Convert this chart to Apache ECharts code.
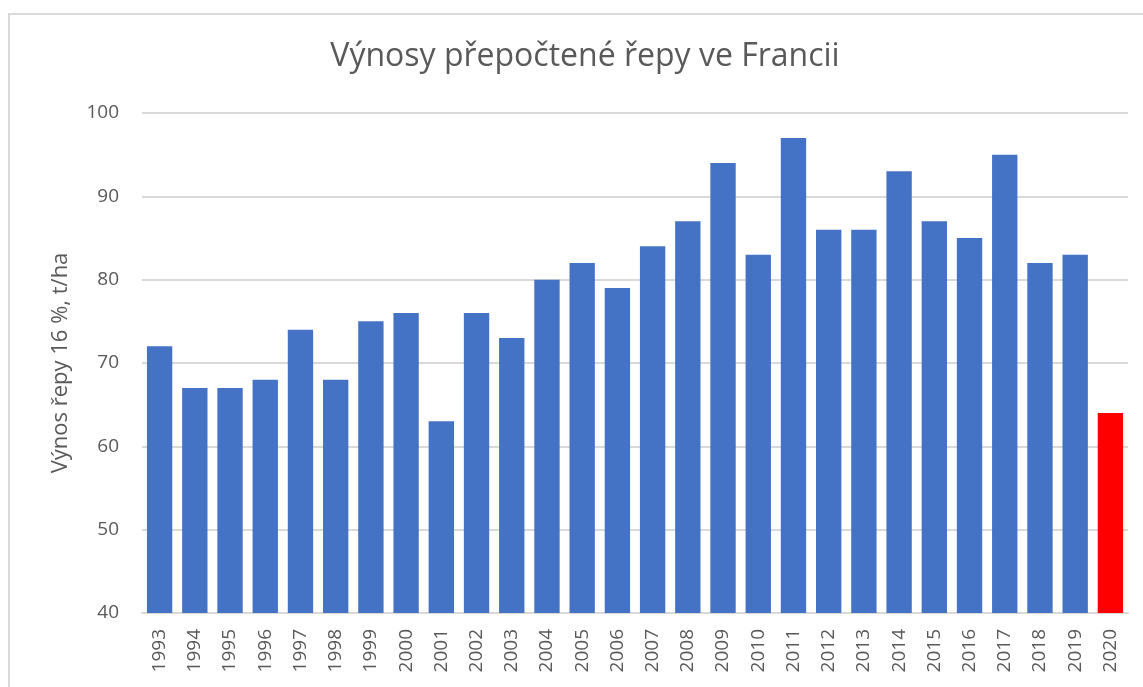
<!DOCTYPE html>
<html>
<head>
<meta charset="utf-8">
<script src="https://cdn.jsdelivr.net/npm/echarts@6/dist/echarts.min.js"></script>
<style>
  html, body { margin: 0; padding: 0; background: #fff; }
  #frame { position: absolute; left: 8px; top: 13px; width: 1150px; height: 700px;
           border: 2px solid #d9d9d9; box-sizing: border-box; }
  #chart { position: absolute; left: 0; top: 0; width: 1143px; height: 687px; }
</style>
</head>
<body>
<div id="frame"></div>
<div id="chart"></div>
<script>
const roky = ['1993','1994','1995','1996','1997','1998','1999','2000','2001','2002',
  '2003','2004','2005','2006','2007','2008','2009','2010','2011','2012',
  '2013','2014','2015','2016','2017','2018','2019','2020'];
const vynosy = [72, 67, 67, 68, 74, 68, 75, 76, 63, 76,
  73, 80, 82, 79, 84, 87, 94, 83, 97, 86,
  86, 93, 87, 85, 95, 82, 83, 64];
const zvyrazneny = '2020';

const FONT = 'Open Sans';
const SEDA = '#595959';

const chart = echarts.init(document.getElementById('chart'), null, { renderer: 'canvas' });
chart.setOption({
  animation: false,
  textStyle: { fontFamily: FONT },
  title: {
    text: 'Výnosy přepočtené řepy ve Francii',
    left: 580, top: 36, textAlign: 'center',
    textStyle: { color: SEDA, fontSize: 32, fontWeight: 'normal', fontFamily: FONT }
  },
  grid: { left: 142, right: 15, top: 113, bottom: 74 },
  xAxis: {
    type: 'category', data: roky,
    axisLine: { lineStyle: { color: '#d9d9d9', width: 2 } },
    axisTick: { show: false },
    axisLabel: { rotate: 90, color: SEDA, fontSize: 19, margin: 16, interval: 0 }
  },
  yAxis: {
    type: 'value', min: 40, max: 100, interval: 10,
    name: 'Výnos řepy 16 %, t/ha', nameLocation: 'middle', nameGap: 70,
    nameTextStyle: { color: SEDA, fontSize: 22 },
    axisLine: { show: false }, axisTick: { show: false },
    axisLabel: { color: SEDA, fontSize: 19, margin: 23 },
    splitLine: { lineStyle: { color: '#d9d9d9', width: 2 } }
  },
  series: [{
    type: 'bar', barCategoryGap: '28%',
    data: vynosy.map((v, i) => ({
      value: v,
      itemStyle: { color: roky[i] === zvyrazneny ? '#ff0000' : '#4472c4' }
    }))
  }]
});
</script>
</body>
</html>
